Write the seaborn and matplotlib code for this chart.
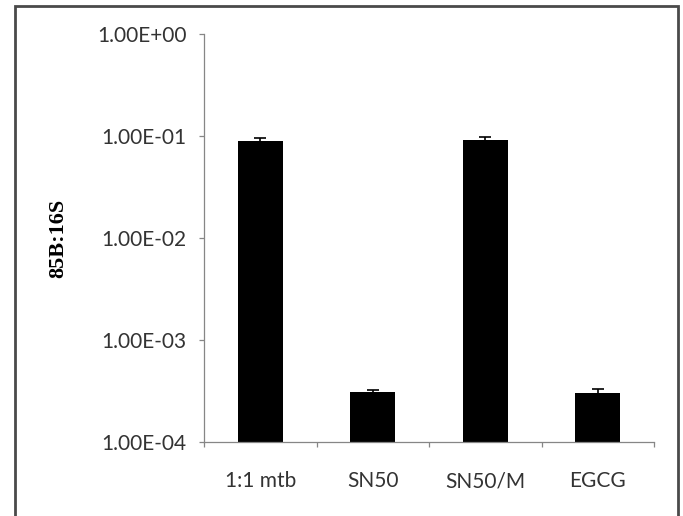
import numpy as np
import pandas as pd
import matplotlib
matplotlib.use("Agg")
import matplotlib.pyplot as plt
from matplotlib.ticker import FuncFormatter, FixedLocator, NullLocator
from matplotlib.patches import Rectangle
import seaborn as sns

categories = ["1:1 mtb", "SN50", "SN50/M", "EGCG"]
values = [0.0893, 3.12e-4, 0.0914, 2.99e-4]
errors = [0.007, 0.13e-4, 0.006, 0.3e-4]
y_ticks = [1e-4, 1e-3, 1e-2, 1e-1, 1e0]

df = pd.DataFrame({"group": categories, "ratio": values})

sns.set_theme(style="white")
plt.rcParams["font.family"] = ["Lato", "DejaVu Sans"]

fig = plt.figure(figsize=(6.83, 5.16), dpi=100)
ax = fig.add_axes([204 / 683, 1 - 442 / 516, 450 / 683, 408 / 516])

sns.barplot(data=df, x="group", y="ratio", color="black", saturation=1,
            width=0.4, errorbar=None, ax=ax, edgecolor="black", linewidth=0)
pos = np.arange(len(categories))
ax.errorbar(pos, values, yerr=errors, fmt="none", ecolor="black",
            elinewidth=1.2, capsize=4, capthick=1.2)

ax.set_yscale("log")
ax.set_ylim(1e-4, 1)
ax.set_xlim(-0.5, len(categories) - 0.5)
ax.yaxis.set_major_locator(FixedLocator(y_ticks))
ax.yaxis.set_minor_locator(NullLocator())
ax.yaxis.set_major_formatter(FuncFormatter(lambda v, p: f"{v:.2E}"))

ax.set_xticks(pos)
ax.set_xticklabels(categories)
ax.set_xticks(np.arange(-0.5, len(categories), 1.0), minor=True)

axis_col = "#868686"
for s in ["top", "right"]:
    ax.spines[s].set_visible(False)
for s in ["left", "bottom"]:
    ax.spines[s].set_color(axis_col)
    ax.spines[s].set_linewidth(0.9)

ax.tick_params(axis="y", which="major", direction="out", length=3.6, width=0.9,
               color=axis_col, pad=9, labelsize=15, labelcolor="#333333", left=True)
ax.tick_params(axis="x", which="major", length=0, pad=21, labelsize=15,
               labelcolor="#333333")
ax.tick_params(axis="x", which="minor", direction="out", length=3.6, width=0.9,
               color=axis_col, bottom=True)

ax.set_xlabel("")
ax.set_ylabel("85B:16S", family=["Liberation Serif"], fontweight="bold",
              fontsize=16, color="black", va="center")
ax.yaxis.set_label_coords(-0.324, 0.5)

frame = Rectangle((14.5 / 683, -0.1), (678 - 14.5) / 683, 1.1 - 5.5 / 516,
                  transform=fig.transFigure, fill=False, edgecolor="#4a4a4a",
                  linewidth=2.0, clip_on=False)
fig.patches.append(frame)

fig.savefig("out.png", dpi=100, facecolor="white")
